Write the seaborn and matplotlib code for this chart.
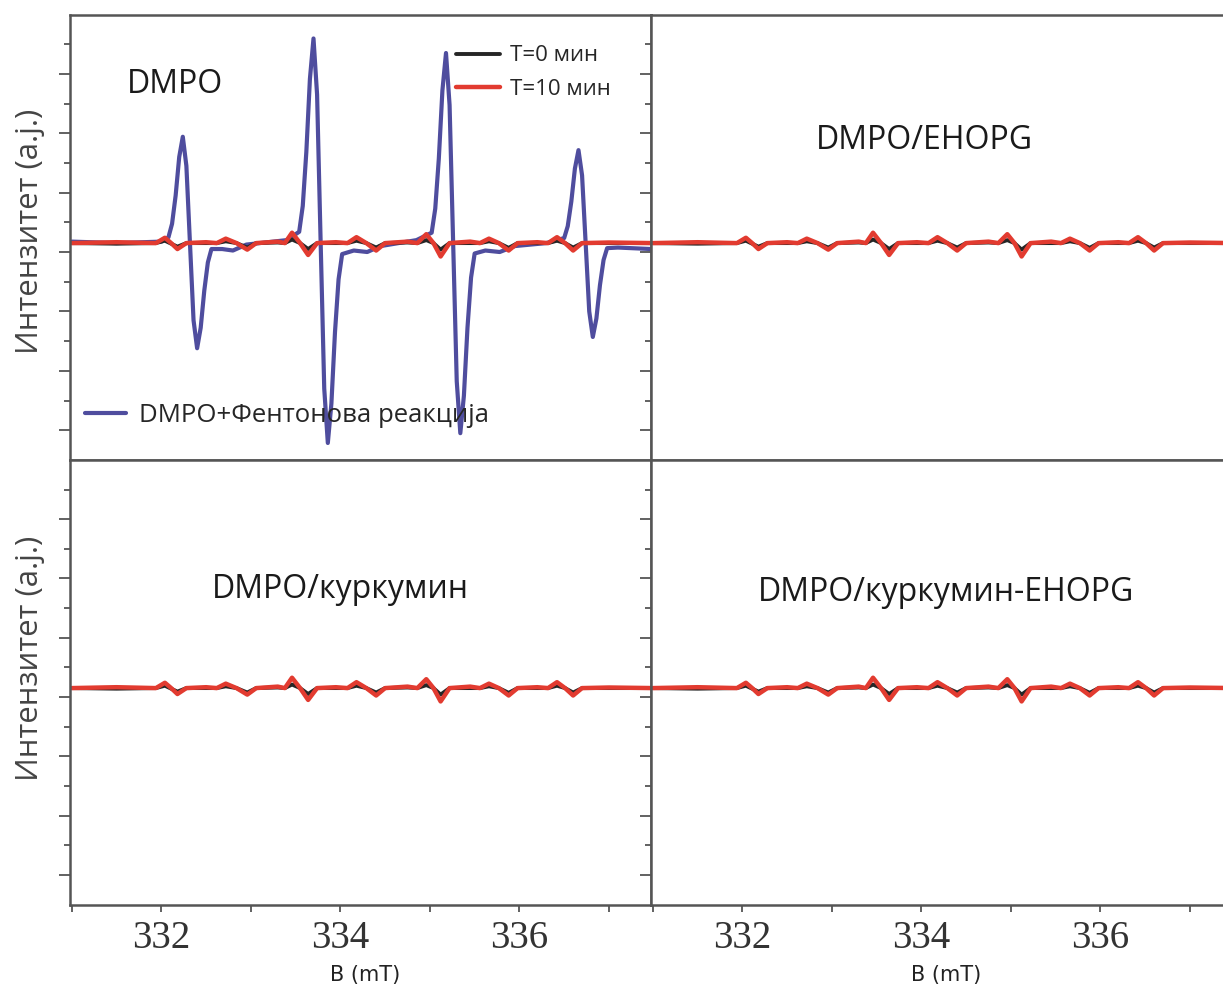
import numpy as np
import matplotlib
matplotlib.use("Agg")
import matplotlib.pyplot as plt
from matplotlib.ticker import FixedLocator, NullFormatter
import seaborn as sns

# --- data (field in mT, intensity in a.j.) ---
# baseline traces (same wiggle pattern in all four panels)
noise_b = [331.00, 331.50,
           331.94, 332.04, 332.11, 332.18, 332.28, 332.50,
           332.62, 332.72, 332.84, 332.96, 333.06, 333.30,
           333.38, 333.46, 333.55, 333.64, 333.74, 333.95,
           334.08, 334.18, 334.29, 334.40, 334.50, 334.75,
           334.86, 334.96, 335.04, 335.12, 335.22, 335.45,
           335.56, 335.66, 335.77, 335.88, 335.98, 336.20,
           336.32, 336.42, 336.51, 336.60, 336.70, 337.00, 337.50]
red_t10 = [0.0, 0.03,
           0.0, 0.18, 0.0, -0.20, 0.0, 0.03,
           0.0, 0.15, 0.0, -0.22, 0.0, 0.05,
           0.0, 0.35, 0.0, -0.40, 0.0, 0.03,
           0.0, 0.20, 0.0, -0.25, 0.0, 0.05,
           0.0, 0.30, 0.0, -0.45, 0.0, 0.05,
           0.0, 0.15, 0.0, -0.25, 0.0, 0.03,
           0.0, 0.20, 0.0, -0.25, 0.0, 0.02, 0.0]
black_t0 = [0.0, -0.02,
            0.0, 0.08, -0.02, -0.12, 0.0, 0.0,
            0.0, 0.06, 0.0, -0.15, 0.0, 0.02,
            0.0, 0.12, 0.0, -0.20, 0.0, 0.0,
            0.0, 0.08, 0.0, -0.15, 0.0, 0.02,
            0.0, 0.10, 0.0, -0.22, 0.0, 0.0,
            0.0, 0.06, 0.0, -0.16, 0.0, 0.0,
            0.0, 0.08, 0.0, -0.15, 0.0, 0.0, 0.0]

# DMPO + Fenton reaction (DMPO-OH quartet)
fenton_b = [331.00, 331.50, 332.00,
            332.08, 332.12, 332.16, 332.20, 332.24, 332.28, 332.32,
            332.36, 332.40, 332.44, 332.48, 332.52, 332.56,
            332.68, 332.80, 332.95, 333.40,
            333.54, 333.58, 333.62, 333.66, 333.70, 333.74, 333.78,
            333.82, 333.86, 333.90, 333.94, 333.98, 334.02,
            334.15, 334.30, 334.45, 334.85,
            335.02, 335.06, 335.10, 335.14, 335.18, 335.22, 335.26,
            335.30, 335.34, 335.38, 335.42, 335.46, 335.50,
            335.62, 335.78, 335.95, 336.30,
            336.50, 336.54, 336.58, 336.62, 336.66, 336.70, 336.74,
            336.78, 336.82, 336.86, 336.90, 336.94, 336.98,
            337.10, 337.47]
fenton_i = [0.05, 0.0, 0.05,
            0.20, 0.65, 1.60, 2.90, 3.58, 2.60, 0.0,
            -2.60, -3.54, -2.85, -1.60, -0.65, -0.20,
            -0.20, -0.25, -0.05, 0.10,
            0.38, 1.25, 3.07, 5.53, 6.89, 5.00, 0.0,
            -4.90, -6.73, -5.40, -3.00, -1.22, -0.37,
            -0.25, -0.30, -0.10, 0.10,
            0.35, 1.16, 2.85, 5.14, 6.40, 4.65, 0.0,
            -4.65, -6.40, -5.14, -2.85, -1.16, -0.35,
            -0.25, -0.30, -0.10, 0.0,
            0.17, 0.57, 1.40, 2.51, 3.13, 2.28, 0.0,
            -2.30, -3.16, -2.54, -1.41, -0.57, -0.17,
            -0.15, -0.20]

panel_titles = ["DMPO", "DMPO/EHOPG", "DMPO/куркумин", "DMPO/куркумин-EHOPG"]
legend_labels = ["T=0 мин", "T=10 мин", "DMPO+Фентонова реакција"]
xtick_labels = ["332", "334", "336"]

# --- style ---
sns.set_style("ticks")
plt.rcParams["font.family"] = ["Open Sans", "DejaVu Sans"]

C_BLUE = "#4f4d9e"
C_RED = "#e23b30"
C_BLACK = "#262626"
C_SPINE = "#555555"

W, H = 1223, 989
fig = plt.figure(figsize=(W / 100, H / 100), dpi=100)

def px_rect(x0, y0, x1, y1):
    return [x0 / W, 1 - y1 / H, (x1 - x0) / W, (y1 - y0) / H]

rects = [px_rect(70, 15, 651, 460.5), px_rect(651, 15, 1232, 460.5),
         px_rect(70, 460.5, 651, 905), px_rect(651, 460.5, 1232, 905)]
title_xy = [(0.181, 0.843), (0.47, 0.719), (0.465, 0.709), (0.508, 0.704)]

axes = []
for k, r in enumerate(rects):
    ax = fig.add_axes(r)
    axes.append(ax)
    if k == 0:
        sns.lineplot(x=fenton_b, y=fenton_i, ax=ax, color=C_BLUE, lw=3.0,
                     label=legend_labels[2], estimator=None, sort=False)
    sns.lineplot(x=noise_b, y=black_t0, ax=ax, color=C_BLACK, lw=2.8,
                 label=legend_labels[0], estimator=None, sort=False)
    sns.lineplot(x=noise_b, y=red_t10, ax=ax, color=C_RED, lw=3.2,
                 label=legend_labels[1], estimator=None, sort=False)

    ax.set_xlim(330.98, 337.47)
    ax.set_ylim(-7.32, 7.68)
    ax.xaxis.set_major_locator(FixedLocator([332, 334, 336]))
    ax.xaxis.set_minor_locator(FixedLocator([331, 333, 335, 337]))
    ax.yaxis.set_major_locator(FixedLocator(np.arange(-6.3, 6.0, 2.0)))
    ax.yaxis.set_minor_locator(FixedLocator(np.arange(-5.3, 7.0, 2.0)))
    ax.yaxis.set_major_formatter(NullFormatter())
    ax.tick_params(axis="y", which="major", direction="out", length=8,
                   width=1.3, color=C_SPINE)
    ax.tick_params(axis="y", which="minor", direction="out", length=4,
                   width=1.3, color=C_SPINE)
    ax.tick_params(axis="x", which="both", direction="out", length=5,
                   width=1.3, color=C_SPINE, pad=6)
    if k < 2:
        ax.xaxis.set_major_formatter(NullFormatter())
    else:
        ax.set_xticklabels(xtick_labels, fontsize=28,
                           family=["Liberation Serif", "DejaVu Serif"],
                           color="#333333")
    for s in ax.spines.values():
        s.set_color(C_SPINE)
        s.set_linewidth(1.8)
    ax.set_xlabel("")
    ax.set_ylabel("")
    if ax.get_legend() is not None:
        ax.get_legend().remove()
    ax.text(title_xy[k][0], title_xy[k][1], panel_titles[k], transform=ax.transAxes,
            ha="center", va="center", fontsize=23, color="#1a1a1a")

# legends in the first panel
ax0 = axes[0]
handles, labels = ax0.get_legend_handles_labels()
hmap = dict(zip(labels, handles))
leg1 = ax0.legend([hmap[legend_labels[0]], hmap[legend_labels[1]]],
                  legend_labels[:2], loc="center left",
                  bbox_to_anchor=(0.664, 0.871), frameon=False, fontsize=16,
                  handlelength=2.0, handletextpad=0.45, labelspacing=0.55,
                  borderpad=0, borderaxespad=0)
ax0.add_artist(leg1)
ax0.legend([hmap[legend_labels[2]]], [legend_labels[2]], loc="center left",
           bbox_to_anchor=(0.026, 0.102), frameon=False, fontsize=18.5,
           handlelength=1.6, handletextpad=0.5, borderpad=0, borderaxespad=0)

# y axis labels
for yc in (231, 658):
    fig.text(30 / W, 1 - yc / H, "Интензитет (a.j.)", rotation=90,
             ha="center", va="center", fontsize=22.5, color="#444444")

# x axis labels
for xc in (365, 946):
    fig.text(xc / W, 1 - 975 / H, "B (mT)", ha="center", va="center",
             fontsize=15, color="#222222",
             family=["Liberation Sans Narrow", "DejaVu Sans"])

fig.savefig("out.png", dpi=100, facecolor="white")
